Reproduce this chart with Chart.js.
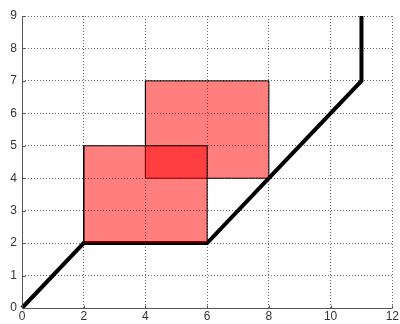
<!DOCTYPE html>
<html>
<head>
<meta charset="utf-8">
<script src="https://cdn.jsdelivr.net/npm/chart.js@4/dist/chart.umd.min.js"></script>
<style>
  html, body { margin: 0; padding: 0; background: #fff; }
  #wrap { width: 400px; height: 324px; }
</style>
</head>
<body>
<div id="wrap"><canvas id="c" width="400" height="324"></canvas></div>
<script>
// Path of the thick black trajectory
const pathX = [0, 2, 6, 8, 11, 11];
const pathY = [0, 2, 2, 4, 7, 9];

// Two translucent rectangles: [xMin, yMin, xMax, yMax]
const rectA = [2, 2, 6, 5];
const rectB = [4, 4, 8, 7];

// Axis tick values
const xTicks = [0, 2, 4, 6, 8, 10, 12];
const yTicks = [0, 1, 2, 3, 4, 5, 6, 7, 8, 9];

function rectPoints(r) {
  return [
    { x: r[0], y: r[1] }, { x: r[2], y: r[1] },
    { x: r[2], y: r[3] }, { x: r[0], y: r[3] }, { x: r[0], y: r[1] }
  ];
}

function rectDataset(r) {
  return {
    data: rectPoints(r),
    showLine: true,
    fill: 'shape',
    backgroundColor: 'rgba(255,0,0,0.5)',
    borderColor: '#000',
    borderWidth: 1,
    pointRadius: 0,
    tension: 0
  };
}

// Solid left/bottom axis lines with small inward tick marks
const axisLines = {
  id: 'axisLines',
  afterDatasetsDraw(chart) {
    const { ctx, chartArea, scales } = chart;
    ctx.save();
    ctx.strokeStyle = '#555';
    ctx.lineWidth = 1;
    ctx.beginPath();
    const lx = Math.round(chartArea.left) + 0.5;
    const by = Math.round(chartArea.bottom) + 0.5;
    ctx.moveTo(lx, chartArea.top);
    ctx.lineTo(lx, by);
    ctx.lineTo(chartArea.right, by);
    xTicks.forEach(v => {
      const px = Math.round(scales.x.getPixelForValue(v)) + 0.5;
      ctx.moveTo(px, by);
      ctx.lineTo(px, by - 3);
    });
    yTicks.forEach(v => {
      const py = Math.round(scales.y.getPixelForValue(v)) + 0.5;
      ctx.moveTo(lx, py);
      ctx.lineTo(lx + 3, py);
    });
    ctx.stroke();
    ctx.restore();
  }
};

new Chart(document.getElementById('c'), {
  type: 'scatter',
  data: {
    datasets: [
      rectDataset(rectA),
      rectDataset(rectB),
      {
        data: pathX.map((x, i) => ({ x, y: pathY[i] })),
        showLine: true,
        fill: false,
        borderColor: '#000',
        borderWidth: 4,
        pointRadius: 0,
        tension: 0,
        clip: false
      }
    ]
  },
  options: {
    responsive: false,
    animation: false,
    layout: { padding: { top: 16, right: 6, left: 0, bottom: 0 } },
    plugins: { legend: { display: false }, tooltip: { enabled: false } },
    scales: {
      x: {
        type: 'linear',
        min: 0, max: 12,
        afterBuildTicks(s) { s.ticks = xTicks.map(v => ({ value: v })); },
        afterFit(s) { s.height = 16; },
        ticks: { color: '#333', font: { family: 'Liberation Sans', size: 12 }, padding: 1, maxRotation: 0 },
        grid: { color: '#666', lineWidth: 1, drawTicks: false, tickLength: 0 },
        border: { display: false, dash: [1, 2] }
      },
      y: {
        type: 'linear',
        min: 0, max: 9,
        afterBuildTicks(s) { s.ticks = yTicks.map(v => ({ value: v })); },
        afterFit(s) { s.width = 22; },
        ticks: { color: '#333', font: { family: 'Liberation Sans', size: 12 }, padding: 5 },
        grid: { color: '#666', lineWidth: 1, drawTicks: false, tickLength: 0 },
        border: { display: false, dash: [1, 2] }
      }
    }
  },
  plugins: [axisLines]
});
</script>
</body>
</html>
